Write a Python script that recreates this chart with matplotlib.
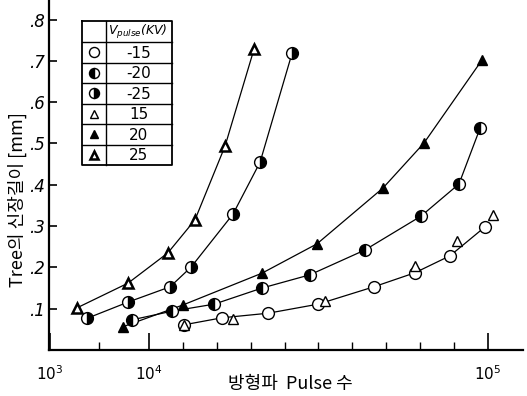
import numpy as np
import matplotlib
matplotlib.use("Agg")
import matplotlib.pyplot as plt

plt.rcParams['font.family'] = ['Noto Sans CJK KR', 'DejaVu Sans']

# ---- data (pulse count, tree length in mm) ----
x_n25 = [4400, 8100, 15600, 21200, 32300, 39500, 48000]
y_n25 = [0.077, 0.116, 0.153, 0.201, 0.329, 0.455, 0.719]

x_p25 = [3450, 8100, 15000, 22200, 30200, 37900]
y_p25 = [0.102, 0.162, 0.235, 0.315, 0.494, 0.729]

x_p20 = [7600, 19000, 40000, 54600, 72100, 83000, 98400]
y_p20 = [0.056, 0.109, 0.186, 0.257, 0.392, 0.501, 0.702]

x_n20 = [8450, 16100, 27300, 40000, 52700, 67300, 82200, 92300, 97900]
y_n20 = [0.073, 0.094, 0.111, 0.150, 0.182, 0.242, 0.324, 0.402, 0.537]

x_n15 = [19300, 29400, 41600, 54900, 69700, 80600, 89900, 99200]
y_n15 = [0.061, 0.078, 0.089, 0.111, 0.153, 0.187, 0.228, 0.298]

x_p15 = [19300, 32300, 56700, 80600, 91800, 101300]
y_p15 = [0.061, 0.075, 0.119, 0.203, 0.264, 0.327]

legend_labels = ['-15', '-20', '-25', '15', '20', '25']
ytick_vals = [0.1, 0.2, 0.3, 0.4, 0.5, 0.6, 0.7, 0.8]
ytick_labels = ['.1', '.2', '.3', '.4', '.5', '.6', '.7', '.8']
xtick_vals = [1e3, 1e4, 1e5]
xtick_labels = [r'$10^3$', r'$10^4$', r'$10^5$']

# ---- hand-drawn piecewise axis scale ----
_xp = np.array([0.0, 1e3, 1e4, 1e5, 2e5])
_up = np.array([39.0, 50.0, 149.0, 488.0, 488.0 + 1e5 / 265.5])
def fwd(x):
    return np.interp(x, _xp, _up)
def inv(u):
    return np.interp(u, _up, _xp)

fig = plt.figure(figsize=(5.27, 3.96), dpi=100)
ax = fig.add_axes([49 / 527, 46 / 396, 474 / 527, 350 / 396])
ax.set_xscale('function', functions=(fwd, inv))
ax.set_xlim(909, 109300)
ax.set_ylim(0, 350 / 413)

lw = 0.9
ms_c = 8.5
ms_t = 7

styles = {
    '-15': dict(marker='o', ms=ms_c, mfc='white', mec='black', mew=1.0),
    '-20': dict(marker='o', ms=ms_c, fillstyle='left', mfc='black', mfcalt='white', mec='black', mew=1.0),
    '-25': dict(marker='o', ms=ms_c, fillstyle='right', mfc='black', mfcalt='white', mec='black', mew=1.0),
    '15': dict(marker='^', ms=ms_t, mfc='white', mec='black', mew=1.0),
    '20': dict(marker='^', ms=ms_t, mfc='black', mec='black', mew=1.0),
    '25': dict(marker='^', ms=ms_t, mfc='white', mec='black', mew=1.8),
}

ax.plot(x_p25, y_p25, color='black', lw=lw, **styles['25'])
ax.plot(x_n25, y_n25, color='black', lw=lw, **styles['-25'])
ax.plot(x_p20, y_p20, color='black', lw=lw, **styles['20'])
ax.plot(x_n20, y_n20, color='black', lw=lw, **styles['-20'])
ax.plot(x_n15, y_n15, color='black', lw=lw, **styles['-15'])
ax.plot(x_p15, y_p15, color='black', lw=0, linestyle='none', **styles['15'])

for s in ['top', 'right']:
    ax.spines[s].set_visible(False)
for s in ['left', 'bottom']:
    ax.spines[s].set_linewidth(1.6)

ax.set_yticks(ytick_vals)
ax.set_yticklabels(ytick_labels, fontsize=12, family='DejaVu Sans', style='italic')
ax.tick_params(axis='y', direction='in', length=6, width=1.2, pad=3)

ax.set_xticks(xtick_vals)
ax.set_xticklabels(xtick_labels, fontsize=11, family='DejaVu Sans', style='italic')
minor = [5500] + [1e4 + k * 9000 for k in range(1, 10)]
ax.set_xticks(minor, minor=True)
ax.tick_params(axis='x', which='major', direction='in', length=12, width=1.2, pad=10)
ax.tick_params(axis='x', which='minor', direction='in', length=6, width=1.0)

fig.text(17 / 527, 1 - 200 / 396, 'Tree의 신장길이 [mm]', rotation=90,
         ha='center', va='center', fontsize=13)
fig.text(290 / 527, 1 - 384 / 396, '방형파  Pulse 수', ha='center', va='center', fontsize=13)

# ---- legend table (figure pixel coordinates) ----
ov = fig.add_axes([0, 0, 1, 1], facecolor='none')
ov.set_xlim(0, 527)
ov.set_ylim(396, 0)
ov.axis('off')
L, M, R = 82, 106, 172
rows = [21, 42, 62.5, 83, 103.5, 124, 144.5, 165]
ov.plot([L, R, R, L, L], [rows[0], rows[0], rows[-1], rows[-1], rows[0]], color='black', lw=1.3)
ov.plot([M, M], [rows[0], rows[-1]], color='black', lw=1.0)
for r in rows[1:-1]:
    ov.plot([L, R], [r, r], color='black', lw=1.0)
ov.text(108, (rows[0] + rows[1]) / 2 + 1, r'$V_{pulse}$(KV)', ha='left', va='center',
        fontsize=9, family='DejaVu Sans', style='italic')
for i, lab in enumerate(legend_labels):
    yc = (rows[i + 1] + rows[i + 2]) / 2
    st = dict(styles[lab])
    st['ms'] = st['ms'] * 0.85
    ov.plot([94], [yc], linestyle='none', **st)
    ov.text(139, yc + 1, lab, ha='center', va='center', fontsize=11, family='DejaVu Sans')

fig.savefig('out.png', dpi=100)
